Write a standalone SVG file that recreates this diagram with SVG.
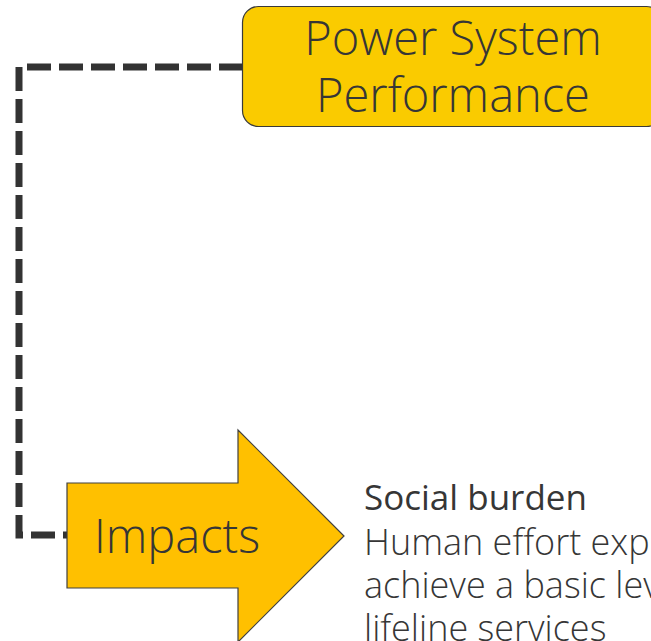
<svg xmlns="http://www.w3.org/2000/svg" width="651" height="641" viewBox="0 0 651 641">
  <style>
    .node-box { fill: #FACB00; stroke: #3a3a3a; stroke-width: 1.2; }
    .node-arrow { fill: #FFC000; stroke: #404040; stroke-width: 1.2; }
    .label { font-family: "Open Sans", "Noto Sans", "Liberation Sans", sans-serif; fill: #363636; font-weight: 300; }
    .title { font-size: 47px; }
    .head { font-size: 35px; font-weight: 400; }
    .body { font-size: 36px; }
    .link { fill: none; stroke: #333333; stroke-width: 7; stroke-dasharray: 24 8; stroke-dashoffset: 20; stroke-linejoin: miter; }
  </style>
  <rect width="651" height="641" fill="#ffffff"/>

  <!-- dashed connector from the performance box down to the impacts arrow -->
  <g id="connectors">
    <path class="link" d="M67,535 H19 V67 H242"/>
  </g>

  <g id="power-system-performance">
    <rect class="node-box" x="242.5" y="6.5" width="420" height="120" rx="16" ry="16"/>
    <text class="label title" x="453" y="55" text-anchor="middle">Power System</text>
    <text class="label title" x="453" y="112" text-anchor="middle">Performance</text>
  </g>

  <g id="impacts">
    <path class="node-arrow" d="M67,483 H238 V430 L344,536 L238,642 V588 H67 Z"/>
    <text class="label title" x="94" y="553">Impacts</text>
  </g>

  <g id="social-burden">
    <text class="label head" x="364" y="510">Social burden</text>
    <text class="label body" x="364" y="555">Human effort exp</text>
    <text class="label body" x="364" y="598">achieve a basic lev</text>
    <text class="label body" x="364" y="641">lifeline services</text>
  </g>
</svg>
